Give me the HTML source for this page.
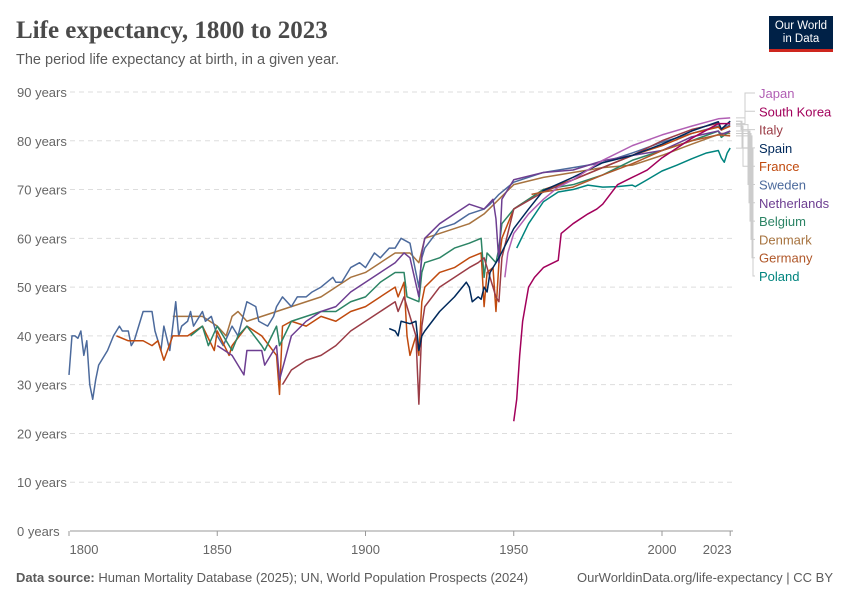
<!DOCTYPE html>
<html><head><meta charset="utf-8"><style>
body{margin:0;width:850px;height:600px;background:#fff;font-family:"Liberation Sans",sans-serif;overflow:hidden;position:relative}
.t{position:absolute;white-space:nowrap}
</style></head><body>
<div class="t" style="left:16px;top:17px;font-family:'Liberation Serif',serif;font-size:25px;font-weight:bold;color:#4a4a4a">Life expectancy, 1800 to 2023</div>
<div class="t" style="left:16px;top:52px;font-size:14.5px;color:#5b5b5b">The period life expectancy at birth, in a given year.</div>
<div style="position:absolute;left:769px;top:16px;width:64px;height:36px;background:#002147;border-bottom:3px solid #ce261e;color:#fff;font-size:11.5px;line-height:13px;text-align:center;padding-top:4px;box-sizing:border-box">Our World<br>in Data</div>
<svg id="c" width="850" height="600" style="position:absolute;left:0;top:0"></svg>
<div class="t" style="left:16px;top:570px;font-size:13px;color:#5b5b5b"><b>Data source:</b> Human Mortality Database (2025); UN, World Population Prospects (2024)</div>
<div class="t" style="right:17px;top:570px;font-size:13px;color:#5b5b5b">OurWorldinData.org/life-expectancy | CC BY</div>
<script>
const yTicks=[0,10,20,30,40,50,60,70,80,90];
const xTicks=[1800,1850,1900,1950,2000,2023];
const names=["Japan","South Korea","Italy","Spain","France","Sweden","Netherlands","Belgium","Denmark","Germany","Poland"];
const colors=["#b15fb4","#a2005b","#9a3c46","#00295b","#c04a0e","#4c6a9c","#6d3e91","#2c8465","#a7733f","#b0582a","#00847e"];
const swedenYears=[1800,1801,1802,1803,1804,1805,1806,1807,1808,1809,1810,1811,1813,1815,1817,1818,1820,1821,1822,1825,1828,1829,1830,1831,1832,1834,1836,1837,1838,1840,1841,1842,1845,1846,1848,1850,1852,1855,1857,1860,1863,1864,1867,1869,1870,1872,1875,1877,1880,1882,1885,1887,1889,1890,1892,1895,1898,1900,1903,1905,1908,1910,1912,1915,1918,1919,1920,1925,1930,1935,1940,1942,1945,1950,1960,1970,1980,1990,2000,2010,2019,2020,2023];
const swedenValues=[32,40,40,39.5,41,36,39,30,27,31,34,35,37,40,42,41,41,38,39,45,45,41,39,37,42,37,47,40,42,43,45,42,45,43,44,40,38,42,40,47,46,43,42,44,46,48,46,48,48,49,50,51,52,51,51,54,55,54,57,56,58,58,60,59,50,56,58,62,63,65,66,67,69,71.5,73.5,74.5,75.5,77.5,79.7,81.5,83,82.2,83.3];
const denmarkYears=[1835,1840,1845,1850,1853,1855,1857,1860,1865,1870,1875,1880,1885,1890,1895,1900,1905,1910,1915,1918,1920,1925,1930,1935,1940,1945,1950,1960,1970,1980,1990,2000,2010,2020,2023];
const denmarkValues=[44,44,44,42,40,44,45,43,44,45,46,47,48,50,52,53,55,57,57,55,60,61,62,63,65,68,71,72.5,73.5,74.5,75,77,79.3,81.5,81.5];
const franceYears=[1816,1820,1825,1828,1830,1832,1835,1840,1845,1849,1850,1854,1855,1860,1865,1870,1871,1872,1875,1880,1885,1890,1895,1900,1905,1910,1911,1913,1914,1915,1916,1917,1918,1919,1920,1925,1930,1935,1939,1940,1941,1943,1944,1945,1946,1950,1960,1970,1980,1990,2000,2010,2019,2020,2023];
const franceValues=[40,39,39,38,39,35,40,40,42,37,41,36,38,42,40,36,28,42,43,42,44,43,45,46,48,50,48,51,40,36,38,40,36,47,50,53,54,56,57,46,53,54,45,55,60,66,70,72,74.5,77,79,81.5,82.8,82.2,83];
const belgiumYears=[1841,1845,1847,1850,1855,1857,1860,1865,1866,1870,1871,1875,1880,1885,1890,1895,1900,1905,1910,1913,1914,1918,1919,1920,1925,1930,1935,1939,1940,1941,1944,1945,1946,1950,1960,1970,1980,1990,2000,2010,2019,2020,2023];
const belgiumValues=[40,42,38,42,37,40,42,38,37,42,38,43,44,45,45,47,48,51,53,53,48,47,53,55,56,58,59,60,52,57,55,58,63,66,70,71,73,76,78,80,82,80.7,82];
const netherlandsYears=[1850,1855,1859,1860,1865,1866,1870,1871,1875,1880,1885,1890,1895,1900,1905,1910,1913,1915,1918,1919,1920,1925,1930,1935,1940,1943,1944,1945,1946,1950,1960,1970,1980,1990,2000,2010,2019,2020,2023];
const netherlandsValues=[38,36,32,37,37,34,38,31,40,43,45,46,49,51,53,55,57,56,48,57,60,63,65,67,66,68,64,55,68,72,73.5,74,75.9,77,78,80.8,82,81.3,82];
const italyYears=[1872,1875,1880,1885,1890,1895,1900,1905,1910,1911,1913,1915,1917,1918,1919,1920,1925,1930,1935,1938,1940,1943,1944,1945,1946,1950,1960,1970,1980,1990,2000,2010,2019,2020,2023];
const italyValues=[30,33,35,36,38,41,43,45,47,45,48,44,40,26,42,46,50,52,54,55,56,50,48,47,56,66,69.5,72,74.5,77,80,82.3,83.6,82.3,84];
const spainYears=[1908,1910,1911,1912,1915,1917,1918,1919,1920,1925,1930,1934,1935,1936,1938,1939,1940,1941,1942,1945,1950,1955,1960,1970,1980,1990,2000,2010,2019,2020,2023];
const spainValues=[41.5,41,40,43,42.5,43,37,40,41,45,48,51,50,47,48,47.5,50,49,53,56,62,66,69.8,72.5,75.5,77,79.3,82,83.9,82.4,84];
const japanYears=[1947,1948,1950,1955,1960,1965,1970,1980,1990,2000,2010,2019,2023];
const japanValues=[52,57,61,65,68,70.5,72,76,79,81.2,83,84.5,84.7];
const koreaYears=[1950,1951,1952,1953,1955,1957,1960,1965,1966,1970,1975,1978,1980,1985,1990,1995,2000,2010,2019,2023];
const koreaValues=[22.5,27,36,43,50,52,54,55.5,61,63,65,66,67,71,72.5,74,76.5,80.5,83.5,83.5];
const germanyYears=[1956,1960,1970,1980,1990,2000,2010,2019,2023];
const germanyValues=[69,69.5,70.5,73,75.3,78,80,81.2,81];
const polandYears=[1951,1955,1960,1965,1970,1975,1980,1985,1990,1991,1995,2000,2005,2010,2015,2019,2020,2021,2022,2023];
const polandValues=[58,63,67.5,69.5,70,70.9,70.5,70.6,70.9,70.6,72,73.8,75,76.3,77.5,78,76.5,75.6,77.5,78.5];
const series=[[japanYears,japanValues],[koreaYears,koreaValues],[italyYears,italyValues],[spainYears,spainValues],[franceYears,franceValues],[swedenYears,swedenValues],[netherlandsYears,netherlandsValues],[belgiumYears,belgiumValues],[denmarkYears,denmarkValues],[germanyYears,germanyValues],[polandYears,polandValues]];
const drawOrder=[8,5,4,7,6,2,3,9,10,0,1];

const X=y=>69+(y-1800)*2.965;
const Y=v=>531-v*4.878;
const svg=document.getElementById('c');const NS='http://www.w3.org/2000/svg';
function mk(t,a){const e=document.createElementNS(NS,t);for(const k in a)e.setAttribute(k,a[k]);svg.appendChild(e);return e;}
yTicks.forEach(v=>{
 const l=mk('line',{x1:70,x2:733,y1:Y(v),y2:Y(v),stroke:'#ddd','stroke-dasharray':v?'5,4':'',});
 
 
 const t=mk('text',{x:17,y:Y(v)+5,'font-size':13,fill:'#666'});t.textContent=v+' years';
 
 
});
mk('line',{x1:70,x2:733,y1:531,y2:531,stroke:'#999'});
xTicks.forEach((yr,i)=>{
 const tk=mk('line',{x1:X(yr),x2:X(yr),y1:531,y2:536,stroke:'#999'});
 
 
 let tx=X(yr);if(i==0)tx+=15;if(i==xTicks.length-1)tx-=13;
 const t=mk('text',{x:tx,y:554,'font-size':13,fill:'#666','text-anchor':'middle'});t.textContent=yr;
 
 
});
drawOrder.forEach(i=>{
 const [ys,vs]=series[i];
 const p=mk('polyline',{points:ys.map((y,j)=>X(y)+','+Y(vs[j])).join(' '),fill:'none',stroke:colors[i],'stroke-width':1.5,'stroke-linejoin':'round'});
 
 
});
names.forEach((n,i)=>{
 const [ys,vs]=series[i];
 const ey=Y(vs[vs.length-1]);const ly=93+i*18.3;
 const bx=i<2?745:739+i*1.0+(i>4?4:0);
 const c=mk('polyline',{points:`736,${ey} ${bx},${ey} ${bx},${ly} 755,${ly}`,fill:'none',stroke:'#ccc','stroke-width':1});
 
 
 const t=mk('text',{x:759,y:ly+5,'font-size':13,fill:colors[i]});t.textContent=n;
 
 
});
</script>
</body></html>
